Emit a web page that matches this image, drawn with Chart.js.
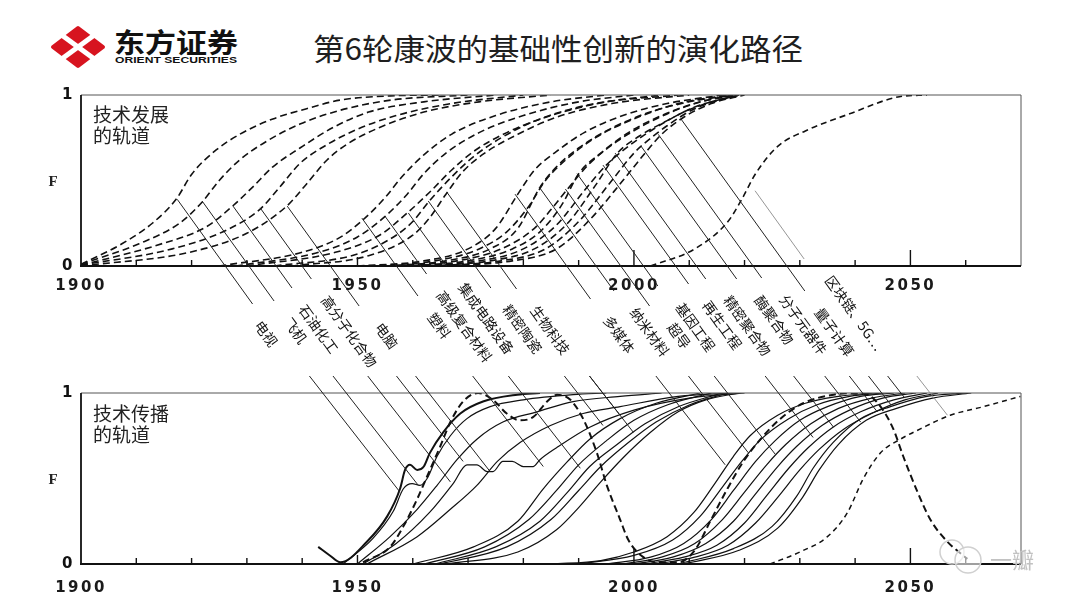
<!DOCTYPE html>
<html>
<head>
<meta charset="utf-8">
<script src="https://cdn.jsdelivr.net/npm/chart.js@4.4.1/dist/chart.umd.min.js"></script>
<style>
  body { margin: 0; background: #fff; width: 1080px; height: 608px; overflow: hidden; position: relative; font-family: "Noto Sans CJK SC", sans-serif; }
  #head { position: absolute; left: 0; top: 0; }
  #topBox { position: absolute; left: 0; top: 80px; width: 1080px; height: 300px; }
  #botBox { position: absolute; left: 0; top: 370px; width: 1080px; height: 238px; }
  #mark { position: absolute; left: 0; top: 0; pointer-events: none; }
</style>
</head>
<body>
<svg id="head" width="1080" height="80">
  <polygon points="53,47 78,28 103,47 78,66" fill="#d7141f" stroke="#d7141f" stroke-width="4" stroke-linejoin="round"/>
  <line x1="48" y1="25" x2="108" y2="69" stroke="#fff" stroke-width="5"/>
  <line x1="48" y1="69" x2="108" y2="25" stroke="#fff" stroke-width="5"/>
  <text x="114" y="53" font-family="Noto Sans CJK SC" font-weight="bold" font-size="27" textLength="124" lengthAdjust="spacingAndGlyphs" fill="#111">东方证券</text>
  <text x="115" y="63" font-family="Liberation Sans" font-weight="bold" font-size="8.5" textLength="122" lengthAdjust="spacingAndGlyphs" fill="#111">ORIENT SECURITIES</text>
  <text x="313" y="60" font-family="Noto Sans CJK SC" font-size="30" textLength="490" lengthAdjust="spacingAndGlyphs" fill="#1f1f1f">第6轮康波的基础性创新的演化路径</text>
</svg>
<div id="topBox"><canvas id="devChart"></canvas></div>
<div id="botBox"><canvas id="difChart"></canvas></div>
<svg id="mark" width="1080" height="608">
  <circle cx="952" cy="552" r="12" fill="none" stroke="#d0d0d0" stroke-width="1.5"/>
  <circle cx="968" cy="560" r="13" fill="rgba(255,255,255,0.6)" stroke="#d0d0d0" stroke-width="1.5"/>
  <text x="990" y="568" font-family="Noto Sans CJK SC" font-size="22" fill="#c2c2c2">一瓣</text>
</svg>
<script>
// the 20 basic innovations, in the order of their leader lines
var techNames = ['电视', '飞机', '石油化工', '高分子化合物', '电脑',
  '塑料', '高级复合材料', '集成电路设备', '精密陶瓷', '生物科技',
  '多媒体', '纳米材料', '超导', '基因工程', '再生工程',
  '精密聚合物', '酶聚合物', '分子元器件', '量子计算', '区块链、5G…'];

// where each leader leaves the development chart [year, F]
var devHits = [[1917.4, 0.39], [1921.9, 0.38], [1927.5, 0.35], [1932.4, 0.34], [1937.3, 0.35],
  [1950.8, 0.28], [1955, 0.29], [1959.2, 0.31], [1962.8, 0.38], [1966.2, 0.43],
  [1978.5, 0.42], [1982.9, 0.46], [1987.6, 0.45], [1989.7, 0.54], [1994.4, 0.59],
  [1996.6, 0.66], [2001.3, 0.70], [2004.4, 0.77], [2008.5, 0.86], [2021.9, 0.44]];

// where each leader meets the diffusion chart [year, F]
var difHits = [[1957.7, 0.42], [1961, 0.46], [1966.8, 0.48], [1969.1, 0.6], [1974, 0.54],
  [1983.6, 0.57], [1990.3, 0.56], [1994.4, 0.81], [1997.5, 0.87], [1999.9, 0.77],
  [2016.5, 0.58], [2020.7, 0.65], [2025.6, 0.64], [2032.4, 0.74], [2036.1, 0.8],
  [2041, 0.83], [2044, 0.89], [2046.5, 0.93], [2049, 0.97], [2056.7, 0.87]];

// axis ticks
var yearLabels = [1900, 1950, 2000, 2050];
var fTicks = [0, 1];

// development trajectories (dashed), [year, F]
var dev01 = [[1900, 0.01], [1907.4, 0.13], [1912.9, 0.25], [1917.2, 0.39], [1920.1, 0.54], [1924.5, 0.68], [1928.7, 0.77], [1934.7, 0.86], [1940.8, 0.92], [1946.8, 0.97], [1956, 0.995], [1965, 1]];
var dev02 = [[1900, 0.01], [1910.5, 0.13], [1917.8, 0.25], [1921.8, 0.37], [1925, 0.5], [1928.7, 0.62], [1933.6, 0.73], [1939.6, 0.83], [1946.8, 0.91], [1956, 0.97], [1970, 1]];
var dev03 = [[1900, 0.005], [1913.6, 0.12], [1922.7, 0.23], [1927.4, 0.35], [1931, 0.46], [1934.7, 0.58], [1939.6, 0.69], [1945.6, 0.81], [1952, 0.9], [1962, 0.96], [1975, 1]];
var dev04 = [[1900, 0.005], [1916.5, 0.1], [1926.3, 0.21], [1932.3, 0.33], [1935.9, 0.46], [1939.6, 0.6], [1944.5, 0.71], [1950, 0.8], [1957, 0.88], [1967, 0.95], [1980, 1]];
var dev05 = [[1900, 0], [1919.6, 0.08], [1929.9, 0.19], [1937.2, 0.35], [1940.8, 0.48], [1944.5, 0.62], [1948, 0.71], [1954, 0.81], [1962, 0.9], [1972, 0.96], [1985, 1]];
var dev06 = [[1925, 0], [1940, 0.08], [1947, 0.17], [1951, 0.27], [1955, 0.4], [1958, 0.52], [1962, 0.65], [1967, 0.77], [1975, 0.88], [1985, 0.96], [1995, 1]];
var dev07 = [[1928, 0], [1943, 0.08], [1950, 0.17], [1955, 0.29], [1959, 0.42], [1962, 0.54], [1966, 0.66], [1972, 0.78], [1980, 0.88], [1990, 0.96], [2000, 1]];
var dev08 = [[1930, 0], [1946, 0.08], [1954, 0.18], [1959, 0.31], [1963, 0.43], [1967, 0.56], [1971, 0.67], [1977, 0.78], [1985, 0.88], [1995, 0.96], [2005, 1]];
var dev09 = [[1935, 0], [1950, 0.07], [1957, 0.18], [1960, 0.26], [1963, 0.38], [1967, 0.52], [1971, 0.64], [1976, 0.75], [1983, 0.86], [1993, 0.95], [2008, 1]];
var dev10 = [[1938, 0], [1952, 0.06], [1960, 0.18], [1963, 0.28], [1966, 0.42], [1969, 0.55], [1973, 0.66], [1979, 0.77], [1986, 0.87], [1996, 0.95], [2010, 1]];
var dev11 = [[1950, 0], [1962, 0.03], [1970, 0.1], [1975, 0.22], [1979, 0.42], [1982, 0.56], [1986, 0.67], [1991, 0.78], [1998, 0.88], [2006, 0.95], [2016, 1]];
var dev12 = [[1952, 0], [1964, 0.03], [1972, 0.1], [1977, 0.2], [1981, 0.35], [1984, 0.5], [1988, 0.63], [1993, 0.75], [2000, 0.86], [2008, 0.95], [2017, 1]];
var dev13 = [[1955, 0], [1966, 0.03], [1974, 0.1], [1979, 0.22], [1983, 0.46], [1986, 0.58], [1990, 0.69], [1995, 0.79], [2002, 0.89], [2010, 0.96], [2018, 1]];
var dev14 = [[1957, 0], [1968, 0.03], [1976, 0.1], [1982, 0.22], [1985, 0.33], [1988, 0.45], [1992, 0.6], [1997, 0.73], [2004, 0.86], [2011, 0.95], [2018, 1]];
var dev15 = [[1958, 0], [1970, 0.03], [1978, 0.1], [1983, 0.2], [1987, 0.36], [1990, 0.54], [1994, 0.66], [1999, 0.78], [2005, 0.88], [2012, 0.96], [2018, 1]];
var dev16 = [[1960, 0], [1972, 0.03], [1980, 0.1], [1986, 0.24], [1991, 0.44], [1995, 0.59], [1999, 0.7], [2004, 0.81], [2009, 0.9], [2014, 0.96], [2019, 1]];
var dev17 = [[1962, 0], [1974, 0.03], [1982, 0.1], [1988, 0.25], [1993, 0.47], [1997, 0.66], [2001, 0.76], [2006, 0.85], [2011, 0.93], [2019, 1]];
var dev18 = [[1963, 0], [1976, 0.03], [1984, 0.1], [1990, 0.26], [1996, 0.5], [2000, 0.66], [2002, 0.72], [2006, 0.82], [2011, 0.92], [2019, 1]];
var dev19 = [[1965, 0], [1978, 0.03], [1986, 0.1], [1992, 0.27], [1998, 0.5], [2002, 0.66], [2005, 0.77], [2009, 0.87], [2014, 0.95], [2020, 1]];
var dev20 = [[2003, 0], [2011, 0.1], [2017, 0.26], [2019.5, 0.39], [2022, 0.54], [2026, 0.7], [2031, 0.79], [2039, 0.89], [2048, 0.99], [2053, 1]];

// diffusion trajectories (solid), [year, F]
var dif01 = [[1942.9, 0.1], [1945, 0.05], [1946.9, 0.01], [1951.7, 0.13], [1955.4, 0.28], [1957.7, 0.44], [1958.6, 0.55], [1959.5, 0.58], [1960.8, 0.55], [1962, 0.57], [1963.1, 0.65], [1965.5, 0.77], [1968.6, 0.88], [1972.7, 0.95], [1978.9, 0.99], [1983, 1]];
var dif02 = [[1947.4, 0], [1952.8, 0.15], [1956.5, 0.31], [1958.3, 0.44], [1959.9, 0.47], [1961.3, 0.46], [1962.6, 0.5], [1964.4, 0.63], [1966.8, 0.75], [1969.8, 0.85], [1974, 0.92], [1980, 0.96], [1989, 0.99], [1995, 1]];
var dif03 = [[1950, 0], [1955.9, 0.16], [1960.8, 0.32], [1964.4, 0.46], [1968, 0.61], [1971.6, 0.73], [1976.3, 0.83], [1982.5, 0.89], [1989, 0.95], [1997.5, 0.98], [2005, 1]];
var dif04 = [[1951, 0], [1957, 0.12], [1963, 0.3], [1967.3, 0.47], [1969.8, 0.58], [1971.6, 0.58], [1973.5, 0.54], [1974.5, 0.54], [1976.3, 0.6], [1978, 0.6], [1980, 0.57], [1981.8, 0.57], [1983, 0.61], [1986, 0.68], [1992, 0.8], [2000, 0.9], [2010, 0.97], [2020, 1]];
var dif05 = [[1951.7, 0], [1960.8, 0.16], [1966.8, 0.32], [1971.6, 0.46], [1975.3, 0.6], [1979.4, 0.71], [1984.9, 0.81], [1990.8, 0.88], [1997.5, 0.92], [2008, 0.98], [2018, 1]];
var dif06 = [[1960, 0], [1971, 0.1], [1979, 0.25], [1983.6, 0.44], [1988, 0.6], [1992, 0.73], [1997.5, 0.85], [2004, 0.94], [2012, 1]];
var dif07 = [[1962, 0], [1973, 0.1], [1981, 0.26], [1986, 0.43], [1990, 0.58], [1995, 0.72], [2000, 0.84], [2006, 0.93], [2014, 1]];
var dif08 = [[1964, 0], [1975, 0.1], [1983, 0.25], [1988, 0.42], [1992, 0.57], [1997, 0.7], [2002, 0.82], [2008, 0.92], [2016, 1]];
var dif09 = [[1965, 0], [1977, 0.1], [1985, 0.26], [1990, 0.43], [1994, 0.57], [1999, 0.71], [2004, 0.83], [2010, 0.93], [2017, 1]];
var dif10 = [[1966, 0], [1979, 0.07], [1986, 0.2], [1990, 0.33], [1994, 0.48], [1998, 0.62], [2003, 0.77], [2008, 0.89], [2013, 0.96], [2019, 1]];
var dif11 = [[1985, 0], [1994, 0.02], [2000, 0.07], [2006, 0.16], [2010.8, 0.3], [2014.4, 0.46], [2018, 0.63], [2021, 0.75], [2026, 0.87], [2031, 0.94], [2037, 0.98], [2043, 1]];
var dif12 = [[1990, 0], [2000, 0.05], [2007, 0.14], [2012, 0.28], [2016, 0.45], [2019.5, 0.6], [2023, 0.73], [2028, 0.85], [2033, 0.93], [2039, 0.98], [2045, 1]];
var dif13 = [[1995, 0], [2003, 0.04], [2009, 0.12], [2014, 0.26], [2018, 0.43], [2022, 0.6], [2025.5, 0.72], [2030, 0.84], [2035, 0.92], [2041, 0.98], [2047, 1]];
var dif14 = [[1998, 0], [2005, 0.04], [2011, 0.12], [2016, 0.26], [2020, 0.42], [2024, 0.58], [2027.5, 0.7], [2032, 0.82], [2037, 0.91], [2043, 0.97], [2049, 1]];
var dif15 = [[2000, 0], [2007, 0.04], [2013, 0.12], [2018, 0.25], [2022, 0.41], [2026, 0.57], [2029.5, 0.69], [2034, 0.81], [2039, 0.9], [2045, 0.97], [2051, 1]];
var dif16 = [[2002, 0], [2009, 0.04], [2015, 0.11], [2020, 0.24], [2024, 0.4], [2028, 0.56], [2031.5, 0.68], [2036, 0.8], [2041, 0.89], [2047, 0.96], [2053, 1]];
var dif17 = [[2004, 0], [2011, 0.04], [2017, 0.11], [2022, 0.24], [2026, 0.39], [2030, 0.55], [2033.5, 0.67], [2038, 0.79], [2043, 0.88], [2049, 0.96], [2055, 1]];
var dif18 = [[2008, 0], [2018, 0.09], [2025, 0.22], [2029.5, 0.4], [2032.4, 0.56], [2036, 0.71], [2041, 0.85], [2046.4, 0.92], [2053, 0.98], [2060, 1]];
var dif19 = [[2009, 0], [2019, 0.08], [2026, 0.21], [2030.5, 0.39], [2033.5, 0.55], [2037, 0.7], [2042, 0.84], [2047.5, 0.91], [2054, 0.97], [2061, 1]];
// long-wave envelope (thick dashed) and the late diffusion (fine dashed)
var waveLine = [[1951, 0.01], [1955.9, 0.1], [1958.3, 0.22], [1960.8, 0.38], [1963.1, 0.55], [1965, 0.69], [1966.8, 0.83], [1969.1, 0.95], [1971.8, 1], [1974.5, 0.96], [1977, 0.88], [1979.4, 0.84], [1981.8, 0.86], [1984.3, 0.95], [1986.1, 0.99], [1988.5, 0.96], [1990.8, 0.85], [1993.3, 0.65], [1995.1, 0.46], [1997.5, 0.26], [1999, 0.14], [2001.7, 0.04], [2004.2, 0.01], [2008, 0.01], [2011, 0.08], [2013.8, 0.25], [2016.9, 0.44], [2019.8, 0.6], [2022.9, 0.73], [2026.5, 0.85], [2030.6, 0.94], [2036.1, 0.99], [2041.5, 1], [2044.6, 0.92], [2046.9, 0.79], [2048.7, 0.63], [2051.3, 0.42], [2053.6, 0.26], [2056.7, 0.13], [2060.3, 0.03]];
var lateLine = [[2024.6, 0], [2030, 0.07], [2035, 0.16], [2038.6, 0.3], [2041.5, 0.5], [2044.6, 0.65], [2048.2, 0.73], [2051.8, 0.79], [2057.2, 0.87], [2063.2, 0.92], [2069.9, 0.98]];

var devCurves = [dev01, dev02, dev03, dev04, dev05, dev06, dev07, dev08, dev09, dev10,
  dev11, dev12, dev13, dev14, dev15, dev16, dev17, dev18, dev19];
var difCurves = [dif02, dif03, dif04, dif05, dif06, dif07, dif08, dif09, dif10,
  dif11, dif12, dif13, dif14, dif15, dif16, dif17, dif18, dif19];

// layout only: page y of the first character of each label, and a small x nudge
var labelRowY = [328, 325, 312, 303, 330, 320, 298, 290, 312, 313,
  323, 315, 330, 310, 308, 303, 303, 302, 315, 283];
var labelNudgeX = [-8, 0, -3, 0, 6, 0, 0, 2, 2, 4,
  3, 6, 8, 8, 4, 8, 8, 8, 0, 11];

var SLOPE_TOP = 0.72, SLOPE_BOT = 0.78;
var TOP_Y = 80, BOT_Y = 370;
var majorTick = {1950: 9, 2000: 16, 2050: 16};

Chart.defaults.font.family = '"Noto Sans CJK SC", sans-serif';

function toXY(points) {
  return points.map(function (p) { return {x: p[0], y: p[1]}; });
}

function line(points, style) {
  return Object.assign({
    data: toXY(points),
    borderColor: '#111',
    borderWidth: 1.2,
    pointRadius: 0,
    fill: false,
    cubicInterpolationMode: 'monotone'
  }, style);
}

function seg(ctx, x1, y1, x2, y2) {
  ctx.beginPath(); ctx.moveTo(x1, y1); ctx.lineTo(x2, y2); ctx.stroke();
}

function drawFrame(chart) {
  var ctx = chart.ctx, a = chart.chartArea, xs = chart.scales.x;
  ctx.save();
  ctx.strokeStyle = '#555'; ctx.lineWidth = 1;
  seg(ctx, a.left, a.top, a.right, a.top);
  seg(ctx, a.right, a.top, a.right, a.bottom);
  ctx.strokeStyle = '#111'; ctx.lineWidth = 1.8;
  seg(ctx, a.left, a.top, a.left, a.bottom);
  ctx.lineWidth = 2.2;
  seg(ctx, a.left - 1, a.bottom, a.right, a.bottom);
  ctx.lineWidth = 1.4;
  xs.ticks.forEach(function (t) {
    if (t.value <= xs.min || t.value >= xs.max) return;
    var px = xs.getPixelForValue(t.value);
    seg(ctx, px, a.bottom, px, a.bottom - (majorTick[t.value] || 6));
  });
  ctx.restore();
}

function drawCaption(chart, lines, y0) {
  var ctx = chart.ctx, a = chart.chartArea;
  ctx.save();
  ctx.letterSpacing = '0px';
  ctx.fillStyle = '#222';
  ctx.font = '19px "Noto Sans CJK SC"';
  ctx.textBaseline = 'middle';
  lines.forEach(function (s, i) { ctx.fillText(s, 93, y0 + i * 21); });
  ctx.font = 'bold 15px "Liberation Serif"';
  ctx.textAlign = 'center';
  ctx.fillText('F', 53, (a.top + a.bottom) / 2 + 2);
  ctx.restore();
}

function scaleOpts(height, pad) {
  return {
    x: {
      type: 'linear', min: 1900, max: 2070,
      grid: {display: false, drawTicks: false},
      border: {display: false},
      ticks: {
        stepSize: 10, autoSkip: false, maxRotation: 0, padding: pad,
        color: '#1a1a1a', font: {family: '"DejaVu Sans"', size: 15, weight: 'bold'},
        callback: function (v) { return yearLabels.indexOf(v) >= 0 ? String(v) : ''; }
      },
      afterFit: function (s) { s.height = height; }
    },
    y: {
      min: 0, max: 1,
      grid: {display: false, drawTicks: false},
      border: {display: false},
      afterBuildTicks: function (s) { s.ticks = fTicks.map(function (v) { return {value: v}; }); },
      ticks: {
        padding: 6, color: '#111',
        font: {family: '"DejaVu Sans"', size: 15, weight: 'bold'},
        callback: function (v) { return String(v); }
      },
      afterFit: function (s) { s.width = 81; }
    }
  };
}

var spacing = {
  id: 'spacing',
  beforeDraw: function (chart) { chart.ctx.letterSpacing = '2.5px'; }
};

// top: development trajectories with labels and upper leader lines
var devDecor = {
  id: 'devDecor',
  afterDraw: function (chart) {
    var ctx = chart.ctx, xs = chart.scales.x, ys = chart.scales.y;
    var ang = Math.atan2(1, SLOPE_TOP), last = techNames.length - 1;
    drawFrame(chart);
    drawCaption(chart, ['技术发展', '的轨道'], 35);
    ctx.save();
    ctx.letterSpacing = '0px';
    ctx.font = '14px "Noto Sans CJK SC"';
    ctx.fillStyle = '#111';
    ctx.textBaseline = 'middle';
    techNames.forEach(function (name, i) {
      var px = xs.getPixelForValue(devHits[i][0]);
      var py = ys.getPixelForValue(devHits[i][1]);
      var ly = labelRowY[i] - TOP_Y;
      var lx = px + SLOPE_TOP * (ly - py) + labelNudgeX[i];
      var ey = ly - 24;
      ctx.strokeStyle = i === last ? '#8a8a8a' : '#222';
      ctx.lineWidth = i === last ? 0.9 : 1;
      seg(ctx, px, py, px + SLOPE_TOP * (ey - py), ey);
      ctx.save();
      ctx.translate(lx, ly);
      ctx.rotate(ang);
      ctx.fillText(name, -7, 0);
      ctx.restore();
    });
    ctx.restore();
  }
};

// bottom: diffusion trajectories with lower leader lines
var difDecor = {
  id: 'difDecor',
  afterDraw: function (chart) {
    var ctx = chart.ctx, xs = chart.scales.x, ys = chart.scales.y;
    var last = techNames.length - 1, y0 = 376 - BOT_Y;
    drawFrame(chart);
    drawCaption(chart, ['技术传播', '的轨道'], 44);
    ctx.save();
    difHits.forEach(function (h, i) {
      var hx = xs.getPixelForValue(h[0]);
      var hy = ys.getPixelForValue(h[1]);
      ctx.strokeStyle = i === last ? '#8a8a8a' : '#222';
      ctx.lineWidth = i === last ? 0.9 : 1;
      seg(ctx, hx - SLOPE_BOT * (hy - y0), y0, hx, hy);
    });
    ctx.restore();
  }
};

var dashDev = {borderDash: [7, 4], borderWidth: 1.6};

new Chart(document.getElementById('devChart'), {
  type: 'line',
  data: {
    datasets: devCurves.map(function (c) { return line(c, dashDev); })
      .concat([line(dev20, {borderDash: [6, 4], borderWidth: 1.6})])
  },
  options: {
    responsive: true, maintainAspectRatio: false, animation: false,
    layout: {padding: {top: 12, right: 59, left: 0, bottom: 0}},
    plugins: {legend: {display: false}, tooltip: {enabled: false}},
    scales: scaleOpts(114, 11)
  },
  plugins: [spacing, devDecor]
});

new Chart(document.getElementById('difChart'), {
  type: 'line',
  data: {
    datasets: [line(dif01, {borderWidth: 2})]
      .concat(difCurves.map(function (c) { return line(c, {}); }))
      .concat([
        line(waveLine, {borderDash: [7, 4], borderWidth: 2}),
        line(lateLine, {borderDash: [5, 4], borderWidth: 1.5})
      ])
  },
  options: {
    responsive: true, maintainAspectRatio: false, animation: false,
    layout: {padding: {top: 23, right: 59, left: 0, bottom: 0}},
    plugins: {legend: {display: false}, tooltip: {enabled: false}},
    scales: scaleOpts(44, 15)
  },
  plugins: [spacing, difDecor]
});
</script>
</body>
</html>
